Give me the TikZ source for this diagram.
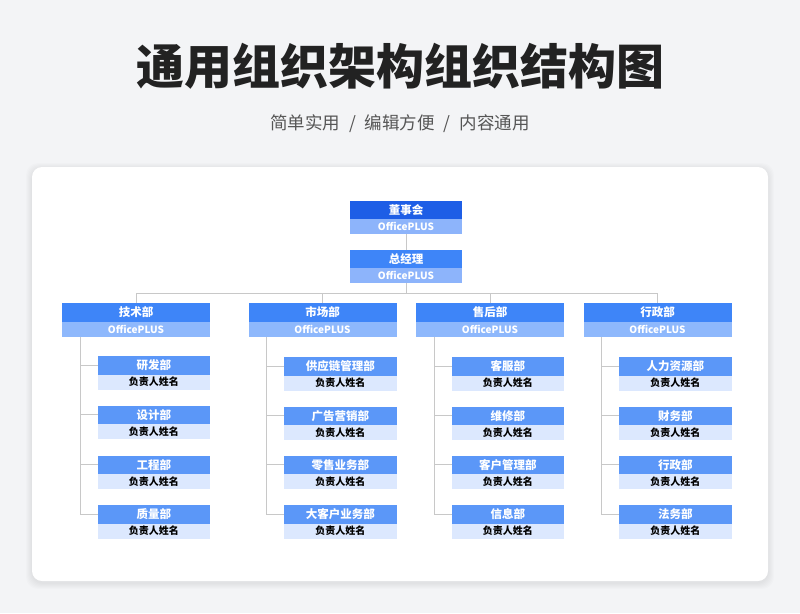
\documentclass[tikz,border=0pt]{standalone}
\usepackage{fontspec}
\setmainfont{Noto Sans CJK SC}
\definecolor{bgc}{HTML}{F3F4F6}
\definecolor{topc}{HTML}{1E5EE6}
\definecolor{topl}{HTML}{8DB4FB}
\definecolor{depc}{HTML}{3E85F8}
\definecolor{depl}{HTML}{8EB8FC}
\definecolor{subc}{HTML}{5B97F8}
\definecolor{subl}{HTML}{DCE8FE}
\definecolor{linec}{HTML}{C8C8C8}
\definecolor{titlec}{HTML}{222222}
\definecolor{subtc}{HTML}{555555}
\tikzset{
  base/.style={rectangle, anchor=north west, inner sep=0pt, outer sep=0pt},
  hfont/.style={font=\bfseries\fontsize{11.5}{13}\selectfont},
  lfont/.style={font=\bfseries\fontsize{10}{12}\selectfont},
  tophdr/.style={base, hfont, fill=topc, text=white, minimum width=112pt, minimum height=18pt},
  mgrhdr/.style={base, hfont, fill=depc, text=white, minimum width=112pt, minimum height=18pt},
  toplow/.style={base, lfont, anchor=north, fill=topl, text=white, minimum width=112pt, minimum height=15pt},
  dephdr/.style={base, hfont, fill=depc, text=white, minimum width=148pt, minimum height=19pt},
  deplow/.style={base, lfont, anchor=north, fill=depl, text=white, minimum width=148pt, minimum height=15pt},
  subhdr/.style={base, hfont, fill=subc, text=white, minimum width=112.5pt, minimum height=18.5pt},
  sublow/.style={base, lfont, anchor=north, fill=subl, text=black, minimum width=112.5pt, minimum height=15pt},
  conn/.style={draw=linec, line width=0.9pt},
}
\newcommand\orgsub[4]{%
  \node[subhdr] (#1h) at (#2,#3) {#4};
  \node[sublow] (#1s) at (#1h.south) {负责人姓名};
}
\begin{document}
\begin{tikzpicture}[x=1pt,y=-1pt]
\useasboundingbox (0,0) rectangle (800,613);
\fill[bgc] (0,0) rectangle (800,613);
% card shadow
\foreach \s in {1,2,...,6}{
  \fill[black, opacity=0.012, rounded corners=12pt] (32-\s,167-\s+2) rectangle (768+\s,581+\s+2);
}
\fill[white, rounded corners=10pt] (32,167) rectangle (768,581);
% title
\node[font=\bfseries\fontsize{48}{50}\selectfont, text=titlec, inner sep=0pt] (title) at (400,66) {通用组织架构组织结构图};
\node[font=\fontsize{17.5}{20}\selectfont, text=subtc, inner sep=0pt] (subtitle) at (400,124) {简单实用\hspace{9pt}/\hspace{9pt}编辑方便\hspace{9pt}/\hspace{9pt}内容通用};
% top
\node[tophdr] (dsh) at (350,201) {董事会};
\node[toplow] (dss) at (dsh.south) {OfficePLUS};
\node[mgrhdr] (zjh) at (350,250) {总经理};
\node[toplow] (zjs) at (zjh.south) {OfficePLUS};
% departments
\node[dephdr] (d1h) at (62,303) {技术部};
\node[deplow] (d1s) at (d1h.south) {OfficePLUS};
\node[dephdr] (d2h) at (248.5,303) {市场部};
\node[deplow] (d2s) at (d2h.south) {OfficePLUS};
\node[dephdr] (d3h) at (416,303) {售后部};
\node[deplow] (d3s) at (d3h.south) {OfficePLUS};
\node[dephdr] (d4h) at (583.5,303) {行政部};
\node[deplow] (d4s) at (d4h.south) {OfficePLUS};
% sub items
\orgsub{a1}{97.5}{356}{研发部}
\orgsub{a2}{97.5}{405.5}{设计部}
\orgsub{a3}{97.5}{455.5}{工程部}
\orgsub{a4}{97.5}{505}{质量部}
\orgsub{b1}{284}{357}{供应链管理部}
\orgsub{b2}{284}{406.5}{广告营销部}
\orgsub{b3}{284}{455.5}{零售业务部}
\orgsub{b4}{284}{505}{大客户业务部}
\orgsub{c1}{451.5}{357}{客服部}
\orgsub{c2}{451.5}{406.5}{维修部}
\orgsub{c3}{451.5}{455.5}{客户管理部}
\orgsub{c4}{451.5}{505}{信息部}
\orgsub{e1}{619}{357}{人力资源部}
\orgsub{e2}{619}{406.5}{财务部}
\orgsub{e3}{619}{455.5}{行政部}
\orgsub{e4}{619}{505}{法务部}
% connectors
\coordinate (bus) at (406,293);
\draw[conn] (dss.south) -- (zjh.north);
\draw[conn] (zjs.south) -- (zjs.south |- bus);
\draw[conn] (d1h.north) -- (d1h.north |- bus) -- (d4h.north |- bus) -- (d4h.north);
\draw[conn] (d2h.north) -- (d2h.north |- bus);
\draw[conn] (d3h.north) -- (d3h.north |- bus);
\foreach \d/\s in {d1/a, d2/b, d3/c, d4/e}{
  \draw[conn] ([xshift=18pt]\d s.south west) |- (\s 4h.west);
  \foreach \k in {1,2,3}{
    \draw[conn] (\s\k h.west) -- ++(-17.5pt,0);
  }
}
\end{tikzpicture}
\end{document}
